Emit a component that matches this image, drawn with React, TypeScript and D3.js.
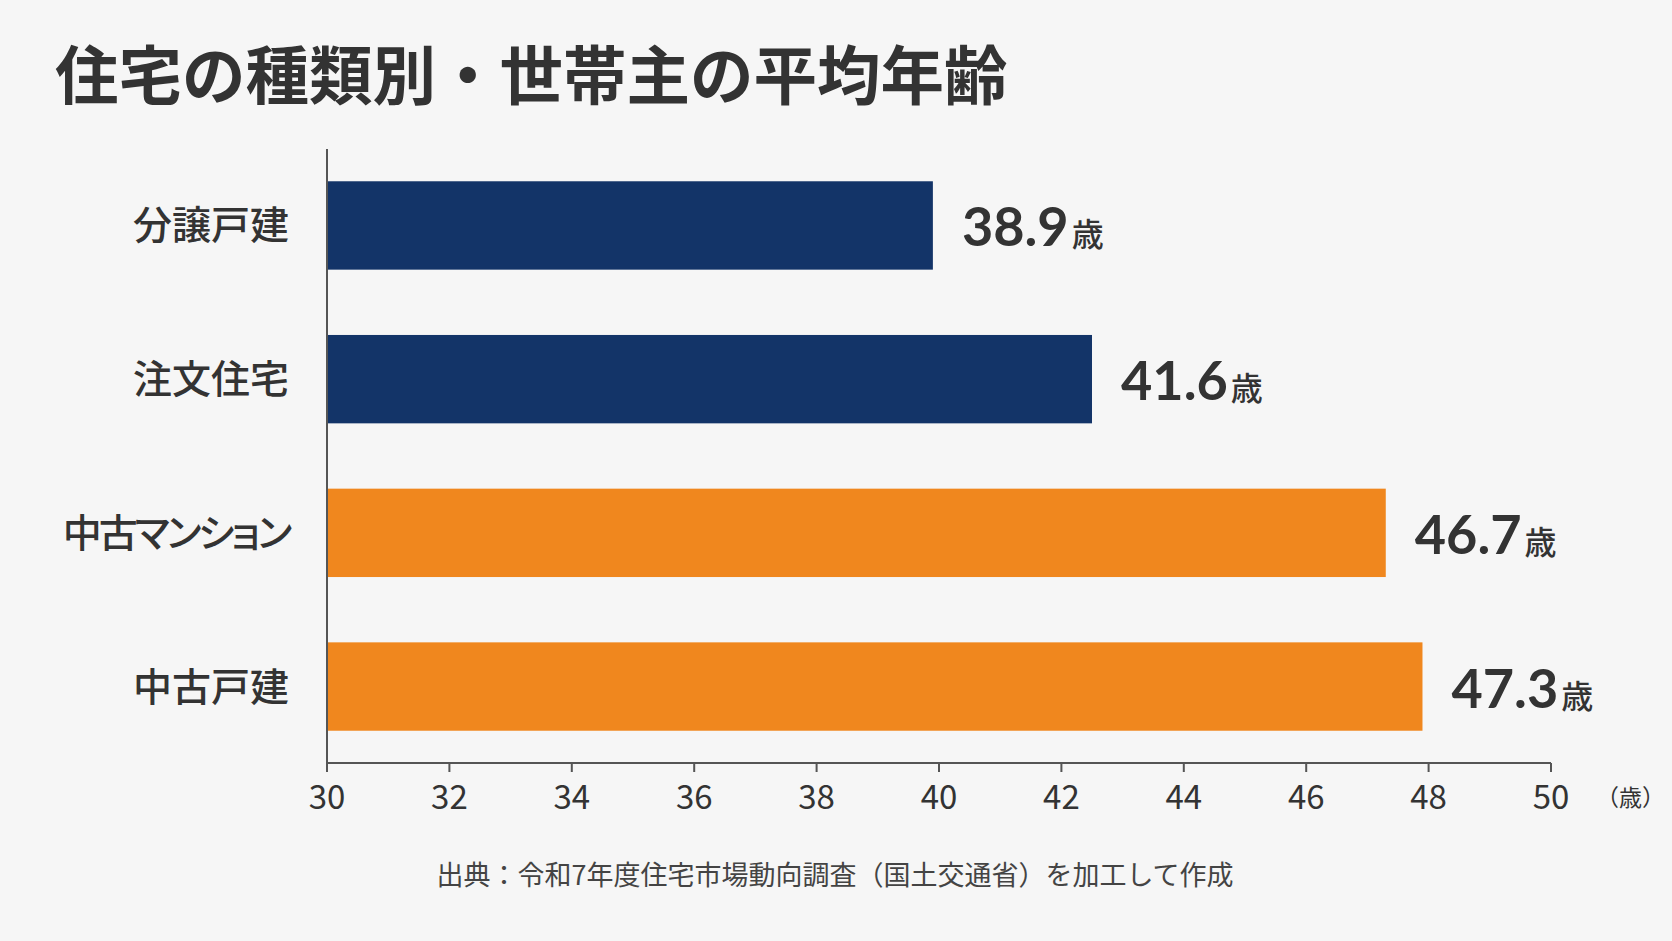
import React from "react";
import * as d3 from "d3";

const title = "住宅の種類別・世帯主の平均年齢";
const categories = ["分譲戸建", "注文住宅", "中古マンション", "中古戸建"];
// printed value labels
const ages = [38.9, 41.6, 46.7, 47.3];
// bar extents as drawn in the reference
const barExtents = [39.9, 42.5, 47.3, 47.9];
const groups = ["new", "new", "used", "used"];
const xTicks = [30, 32, 34, 36, 38, 40, 42, 44, 46, 48, 50];
const unitLabel = "（歳）";
const source = "出典：令和7年度住宅市場動向調査（国土交通省）を加工して作成";

const W = 1672;
const H = 941;
const CJK = '"Noto Sans CJK JP", "Noto Sans", sans-serif';
const NUM = 'Lato, "Noto Sans", sans-serif';
const hasKana = (s: string) => /[\u30A0-\u30FF]/.test(s);

export default function App() {
  const x = d3.scaleLinear().domain([30, 50]).range([327, 1551]);
  const y = d3
    .scaleBand<string>()
    .domain(categories)
    .range([149, 763])
    .paddingInner(0.425)
    .paddingOuter(0.21);
  const color = d3
    .scaleOrdinal<string, string>()
    .domain(["new", "used"])
    .range(["#133468", "#F0871E"]);
  const axisY = 763;
  const bw = y.bandwidth();

  return (
    <svg
      width={W}
      height={H}
      style={{ position: "absolute", left: 0, top: 0, display: "block" }}
    >
      <rect x={0} y={0} width={W} height={H} fill="#f6f6f6" />
      <text
        x={55}
        y={99}
        fontFamily={CJK}
        fontWeight={700}
        fontSize={63.5}
        fill="#333333"
      >
        {title}
      </text>

      {categories.map((c, i) => {
        const cy = (y(c) as number) + bw / 2;
        return (
          <g key={c}>
            <rect
              x={x(30)}
              y={y(c)}
              width={x(barExtents[i]) - x(30)}
              height={bw}
              fill={color(groups[i])}
            />
            <text
              x={289}
              y={cy + 14}
              textAnchor="end"
              fontFamily={CJK}
              fontWeight={500}
              fontSize={39}
              fill="#333333"
              style={{
                fontFeatureSettings: '"palt"',
                letterSpacing: hasKana(c) ? "-3px" : "0px",
              }}
            >
              {c}
            </text>
            <text
              x={x(barExtents[i]) + 29}
              y={cy + 21}
              fontFamily={NUM}
              fontWeight={700}
              fill="#333333"
            >
              <tspan fontSize={54}>{ages[i].toFixed(1)}</tspan>
              <tspan fontFamily={CJK} fontWeight={500} fontSize={32} dx={3}>
                歳
              </tspan>
            </text>
          </g>
        );
      })}

      {/* axes */}
      <line x1={327} x2={327} y1={149} y2={axisY + 8} stroke="#555" strokeWidth={2} />
      <line x1={327} x2={1551} y1={axisY} y2={axisY} stroke="#555" strokeWidth={2} />
      {xTicks.map((t) => (
        <g key={t}>
          <line x1={x(t)} x2={x(t)} y1={axisY} y2={axisY + 9} stroke="#555" strokeWidth={2} />
          <text
            x={x(t)}
            y={axisY + 46}
            textAnchor="middle"
            fontFamily={CJK}
            fontWeight={400}
            fontSize={33}
            fill="#333333"
          >
            {t}
          </text>
        </g>
      ))}
      <text
        x={1596}
        y={axisY + 43}
        fontFamily={CJK}
        fontSize={23}
        fill="#333333"
      >
        {unitLabel}
      </text>
      <text
        x={835}
        y={885}
        textAnchor="middle"
        fontFamily={CJK}
        fontSize={27}
        fill="#444444"
      >
        {source}
      </text>
    </svg>
  );
}
